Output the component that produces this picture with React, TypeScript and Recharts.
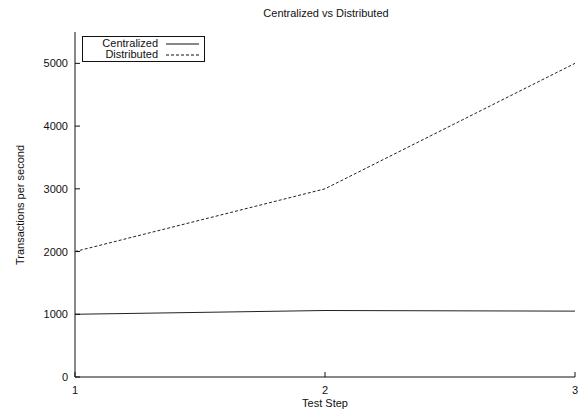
import { LineChart, Line, XAxis, YAxis } from "recharts";

const steps = [1, 2, 3];
const centralized = [1000, 1060, 1050];
const distributed = [2000, 3000, 5000];
const yTicks = [0, 1000, 2000, 3000, 4000, 5000];

const data = steps.map((step, i) => ({
  step,
  centralized: centralized[i],
  distributed: distributed[i],
}));

const FONT = "'Liberation Sans', Arial, Helvetica, sans-serif";
const LEFT = 75;
const RIGHT = 575;
const TOP = 32;
const BOTTOM = 377;
const INK = "#111";

function LeftTick({ y, payload }: any) {
  return (
    <g>
      <line x1={LEFT} x2={LEFT + 5} y1={y} y2={y} stroke={INK} />
      <text x={68} y={y} textAnchor="end" dominantBaseline="central" fontSize={11} fill={INK} fontFamily={FONT}>
        {payload.value}
      </text>
    </g>
  );
}

function RightTick({ y }: any) {
  return <line x1={RIGHT} x2={RIGHT - 5} y1={y} y2={y} stroke={INK} />;
}

function BottomTick({ x, payload }: any) {
  return (
    <g>
      <line x1={x} x2={x} y1={BOTTOM} y2={BOTTOM - 5} stroke={INK} />
      <text x={x} y={390} textAnchor="middle" dominantBaseline="central" fontSize={11} fill={INK} fontFamily={FONT}>
        {payload.value}
      </text>
    </g>
  );
}

function TopTick({ x }: any) {
  return <line x1={x} x2={x} y1={TOP} y2={TOP + 5} stroke={INK} />;
}

export default function App() {
  return (
    <div style={{ position: "absolute", left: 0, top: 0, width: 587, height: 413, background: "#fff", fontFamily: FONT }}>
      <div style={{ position: "absolute", left: 0, width: 587, paddingLeft: 65, boxSizing: "border-box", top: 7, textAlign: "center", fontSize: 11, color: INK }}>
        Centralized vs Distributed
      </div>
      <div
        style={{
          position: "absolute",
          left: 4,
          top: 205,
          fontSize: 11,
          color: INK,
          whiteSpace: "nowrap",
          transform: "translate(-50%, -50%) rotate(-90deg) translate(0, 0)",
          marginLeft: 16,
        }}
      >
        Transactions per second
      </div>
      <LineChart width={587} height={413} data={data} margin={{ top: TOP, right: 587 - RIGHT, bottom: 0, left: 0 }}>
        <XAxis
          xAxisId="b"
          dataKey="step"
          type="number"
          domain={[1, 3]}
          ticks={steps}
          height={413 - BOTTOM}
          axisLine={{ stroke: INK }}
          tickLine={false}
          tick={<BottomTick />}
          label={() => (
            <text x={325} y={403} textAnchor="middle" dominantBaseline="central" fontSize={11} fill={INK} fontFamily={FONT}>
              Test Step
            </text>
          )}
        />
        <XAxis
          xAxisId="t"
          orientation="top"
          dataKey="step"
          type="number"
          domain={[1, 3]}
          ticks={steps}
          height={0}
          axisLine={{ stroke: INK }}
          tickLine={false}
          tick={<TopTick />}
        />
        <YAxis
          yAxisId="l"
          domain={[0, 5500]}
          ticks={yTicks}
          width={LEFT}
          axisLine={{ stroke: INK }}
          tickLine={false}
          tick={<LeftTick />}
        />
        <YAxis
          yAxisId="r"
          orientation="right"
          domain={[0, 5500]}
          ticks={yTicks}
          width={0}
          axisLine={{ stroke: INK }}
          tickLine={false}
          tick={<RightTick />}
        />
        <Line
          xAxisId="b"
          yAxisId="l"
          type="linear"
          dataKey="centralized"
          stroke="#222"
          strokeWidth={1}
          dot={false}
          isAnimationActive={false}
        />
        <Line
          xAxisId="b"
          yAxisId="l"
          type="linear"
          dataKey="distributed"
          stroke="#222"
          strokeWidth={1}
          strokeDasharray="3 2"
          dot={false}
          isAnimationActive={false}
        />
      </LineChart>
      <div
        style={{
          position: "absolute",
          left: 82,
          top: 36,
          width: 121,
          height: 23,
          border: `1px solid ${INK}`,
          fontSize: 11,
          color: INK,
          lineHeight: "11px",
          paddingTop: 0.5,
          boxSizing: "content-box",
        }}
      >
        {[
          { name: "Centralized", dash: false },
          { name: "Distributed", dash: true },
        ].map((item) => (
          <div key={item.name} style={{ display: "flex", alignItems: "center", height: 11 }}>
            <span style={{ width: 75, textAlign: "right" }}>{item.name}</span>
            <svg width={46} height={11}>
              <line x1={8} x2={41} y1={6} y2={6} stroke={INK} strokeDasharray={item.dash ? "3 2" : undefined} />
            </svg>
          </div>
        ))}
      </div>
    </div>
  );
}
